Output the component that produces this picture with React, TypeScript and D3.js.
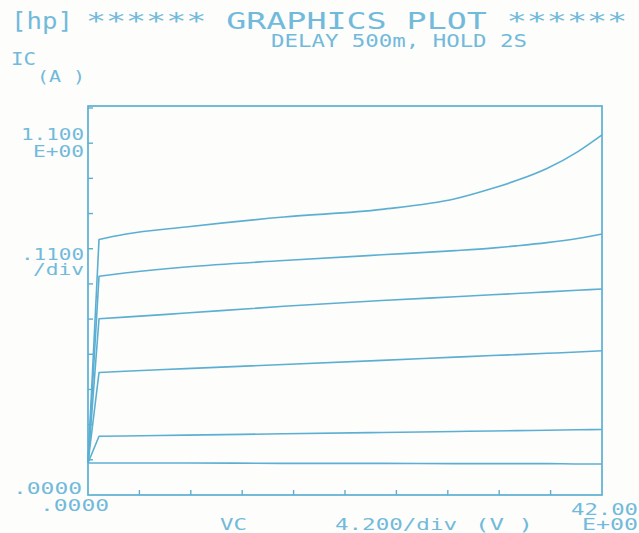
import React from 'react';
import * as d3 from 'd3';

// sweep points (VC, volts) shared by every IB step
const vc = [0, 0.9, 3, 8, 16, 24, 30, 33, 35, 37.5, 40, 42];

// IC (amps) per step
const ic1 = [0.1, 0.1, 0.1, 0.1, 0.099, 0.099, 0.098, 0.098, 0.098, 0.098, 0.097, 0.097];
const ic2 = [0.1, 0.1835, 0.1846, 0.1872, 0.1914, 0.1956, 0.1987, 0.2003, 0.2013, 0.2026, 0.204, 0.205];
const ic3 = [0.1, 0.383, 0.387, 0.395, 0.408, 0.421, 0.431, 0.436, 0.439, 0.443, 0.447, 0.451];
const ic4 = [0.1, 0.551, 0.556, 0.569, 0.59, 0.608, 0.62, 0.626, 0.63, 0.635, 0.64, 0.644];
const ic5 = [0.1, 0.684, 0.694, 0.713, 0.733, 0.751, 0.764, 0.772, 0.779, 0.789, 0.802, 0.816];
const ic6 = [0.1, 0.799, 0.815, 0.838, 0.869, 0.893, 0.926, 0.958, 0.983, 1.021, 1.073, 1.126];
const curves = [ic1, ic2, ic3, ic4, ic5, ic6];

const xTicks = d3.range(1, 10).map(i => i * 4.2);
const yTicks = d3.range(1, 12).map(i => i * 0.11);

const W = 639;
const H = 533;
const ink = '#72badb';
const lineCol = '#5cafd3';
const mono = '"DejaVu Sans Mono", "Liberation Mono", monospace';

const Label = ({ x, y, w, size, text }: any) => (
  <text x={x} y={y} fontSize={size} textLength={w} lengthAdjust="spacingAndGlyphs"
    fill={ink} fontFamily={mono}>{text}</text>
);

const App = () => {
  const left = 88, right = 602, top = 106, bottom = 495;
  const x = d3.scaleLinear().domain([0, 42]).range([left, right]);
  const y = d3.scaleLinear().domain([0, 1.21]).range([bottom, 108]);

  // straight rise to the knee, smooth from there on
  const smooth = d3.line<number>()
    .x((_, i) => x(vc[i + 1]))
    .y(d => y(d))
    .curve(d3.curveMonotoneX);
  const path = (c: number[]) =>
    `M${x(vc[0])},${y(c[0])}L` + (smooth(c.slice(1)) || '').slice(1);

  return (
    <svg width={W} height={H} style={{ position: 'fixed', left: 0, top: 0, background: '#fdfdfb' }}>
      <Label x={11} y={29} w={62} size={23} text="[hp]" />
      <Label x={86} y={29} w={541} size={23} text="****** GRAPHICS PLOT ******" />
      <Label x={271} y={47} w={256} size={18} text="DELAY 500m, HOLD 2S" />

      <Label x={11} y={65} w={25} size={17} text="IC" />
      <Label x={37} y={82} w={48} size={16} text="(A )" />

      <Label x={21} y={140} w={63} size={16} text="1.100" />
      <Label x={33} y={157} w={51} size={16} text="E+00" />
      <Label x={21} y={260} w={63} size={16} text=".1100" />
      <Label x={33} y={275} w={51} size={16} text="/div" />
      <Label x={13} y={494} w={69} size={16} text=".0000" />
      <Label x={40} y={511} w={69} size={16} text=".0000" />

      <Label x={220} y={530} w={27} size={16} text="VC" />
      <Label x={335} y={530} w={122} size={16} text="4.200/div" />
      <Label x={475} y={530} w={58} size={16} text="(V )" />
      <Label x={571} y={515} w={67} size={16} text="42.00" />
      <Label x={582} y={530} w={56} size={16} text="E+00" />

      <rect x={left} y={top} width={right - left} height={bottom - top}
        fill="none" stroke={lineCol} strokeWidth={1.7} />
      {xTicks.map(t => (
        <line key={'x' + t} x1={x(t)} x2={x(t)} y1={bottom} y2={bottom - 5} stroke={lineCol} strokeWidth={1.4} />
      ))}
      {yTicks.map(t => (
        <line key={'y' + t} x1={left} x2={left + 5} y1={y(t)} y2={y(t)} stroke={lineCol} strokeWidth={1.4} />
      ))}

      {curves.map((c, i) => (
        <path key={i} d={path(c)} fill="none" stroke={lineCol} strokeWidth={1.6} strokeLinejoin="round" />
      ))}
    </svg>
  );
};

export default App;
